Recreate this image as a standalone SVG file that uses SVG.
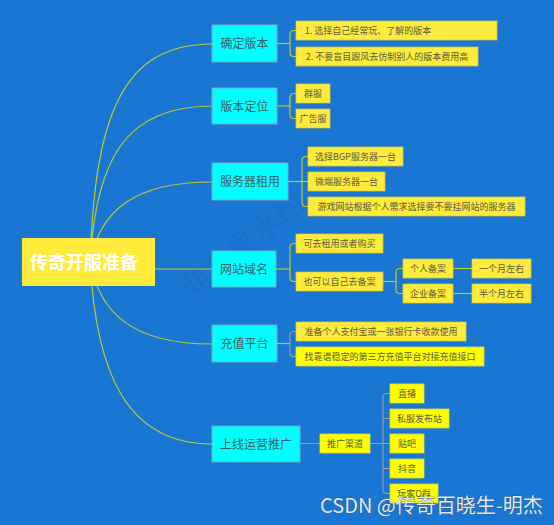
<svg xmlns="http://www.w3.org/2000/svg" width="554" height="525" viewBox="0 0 554 525">
<style>
  text { font-family: "Noto Sans CJK SC", "Liberation Sans", sans-serif; }
  .root { fill: #FFEB3B; }
  .roott { fill: #ffffff; font-size: 18px; font-weight: 600; }
  .br { fill: #00FFFF; stroke: #7BA7C7; stroke-width: 1; }
  .brt { fill: #3E5F66; font-size: 12px; text-anchor: middle; }
  .lf { fill: #FFEB3B; stroke: #D9C63A; stroke-width: 0.8; }
  .lf2 { fill: #FFFF00; stroke: #D9D94A; stroke-width: 0.8; }
  .lft { fill: #5A5A40; font-size: 9px; text-anchor: middle; }
  .c { fill: none; stroke: #C0CA33; stroke-width: 1.2; }
  .g { fill: none; stroke: #9AA0A6; stroke-width: 1.1; }
  .wm { fill: #0D3F80; fill-opacity: 0.1; font-size: 30px; }
  .csdn { fill: #E4E8EE; font-size: 20px; }
</style>
<rect width="554" height="525" fill="#1976D2"/>

<text class="wm" transform="translate(190,300) rotate(-38)">非会员水印</text>

<g id="connectors">
  <path class="c" d="M90 262 C95 120 120 44 212 44"/>
  <path class="c" d="M90 262 C96 160 125 106 212 106"/>
  <path class="c" d="M90 262 C100 210 135 182 212 182"/>
  <path class="c" d="M155 269 H212"/>
  <path class="c" d="M90 262 C100 315 135 344 212 344"/>
  <path class="c" d="M90 262 C96 370 125 444 212 444"/>
  <path class="c" d="M277 43.5 H290"/>
  <path class="c" d="M296 30.5 H294 Q290 30.5 290 34.5 V52.5 Q290 56.5 294 56.5 H296"/>
  <path class="c" d="M277 106 H290"/>
  <path class="c" d="M296 93.5 H294 Q290 93.5 290 97.5 V114.5 Q290 118.5 294 118.5 H296"/>
  <path class="c" d="M288 181.5 H308"/>
  <path class="c" d="M308 156.5 H306 Q302 156.5 302 160.5 V202.5 Q302 206.5 306 206.5 H308"/>
  <path class="c" d="M276 269 H290"/>
  <path class="c" d="M296 243.5 H294 Q290 243.5 290 247.5 V277.5 Q290 281.5 294 281.5 H296"/>
  <path class="c" d="M383 281.5 H396"/>
  <path class="c" d="M403 268.5 H400 Q396 268.5 396 272.5 V289.5 Q396 293.5 400 293.5 H403"/>
  <path class="c" d="M453 268.5 H472"/>
  <path class="c" d="M453 293.5 H472"/>
  <path class="c" d="M277 343.5 H290"/>
  <path class="g" d="M296 331.5 H294 Q290 331.5 290 335.5 V352.5 Q290 356.5 294 356.5 H296"/>
  <path class="g" d="M300 443.5 H320"/>
  <path class="g" d="M370 443.5 H383"/>
  <path class="g" d="M390 393.5 H387 Q383 393.5 383 397.5 V489.5 Q383 493.5 387 493.5 H390"/>
  <path class="g" d="M383 418.5 H390 M383 443.5 H390 M383 468.5 H390"/>
</g>

<g id="root">
  <rect class="root" x="22" y="238" width="133" height="48"/>
  <text class="roott" x="30" y="268.5">传奇开服准备</text>
</g>

<g id="b1">
  <rect class="br" x="212" y="25" width="65" height="37"/>
  <text class="brt" x="244.5" y="48">确定版本</text>
</g>
<g id="b1l1"><rect class="lf" x="296" y="21" width="201" height="19"/><text class="lft" x="368" y="34">1. 选择自己经常玩、了解的版本</text></g>
<g id="b1l2"><rect class="lf" x="296" y="47" width="182" height="19"/><text class="lft" x="387" y="60">2. 不要盲目跟风去仿制别人的版本费用高</text></g>

<g id="b2">
  <rect class="br" x="212" y="88" width="65" height="36"/>
  <text class="brt" x="244.5" y="110.5">版本定位</text>
</g>
<g id="b2l1"><rect class="lf" x="296" y="84" width="34" height="19"/><text class="lft" x="313" y="97">群服</text></g>
<g id="b2l2"><rect class="lf" x="296" y="109" width="34" height="19"/><text class="lft" x="313" y="122">广告服</text></g>

<g id="b3">
  <rect class="br" x="212" y="163" width="76" height="37"/>
  <text class="brt" x="250" y="186">服务器租用</text>
</g>
<g id="b3l1"><rect class="lf" x="308" y="147" width="95" height="19"/><text class="lft" x="355.5" y="160">选择BGP服务器一台</text></g>
<g id="b3l2"><rect class="lf" x="308" y="172" width="77" height="19"/><text class="lft" x="346.5" y="185">微端服务器一台</text></g>
<g id="b3l3"><rect class="lf" x="308" y="197" width="217" height="19"/><text class="lft" x="416.5" y="210">游戏网站根据个人需求选择要不要挂网站的服务器</text></g>

<g id="b4">
  <rect class="br" x="212" y="251" width="64" height="36"/>
  <text class="brt" x="244" y="273.5">网站域名</text>
</g>
<g id="b4l1"><rect class="lf" x="296" y="234" width="87" height="19"/><text class="lft" x="339.5" y="247">可去租用或者购买</text></g>
<g id="b4l2"><rect class="lf" x="296" y="272" width="87" height="19"/><text class="lft" x="339.5" y="285">也可以自己去备案</text></g>
<g id="b4l2a"><rect class="lf" x="403" y="259" width="50" height="19"/><text class="lft" x="428" y="272">个人备案</text></g>
<g id="b4l2b"><rect class="lf" x="403" y="284" width="50" height="19"/><text class="lft" x="428" y="297">企业备案</text></g>
<g id="b4l2a1"><rect class="lf" x="472" y="259" width="59" height="19"/><text class="lft" x="501.5" y="272">一个月左右</text></g>
<g id="b4l2b1"><rect class="lf" x="472" y="284" width="59" height="19"/><text class="lft" x="501.5" y="297">半个月左右</text></g>

<g id="b5">
  <rect class="br" x="212" y="325" width="65" height="37"/>
  <text class="brt" x="244.5" y="348">充值平台</text>
</g>
<g id="b5l1"><rect class="lf" x="296" y="322" width="170" height="19"/><text class="lft" x="381" y="335">准备个人支付宝或一张银行卡收款使用</text></g>
<g id="b5l2"><rect class="lf2" x="296" y="347" width="188" height="19"/><text class="lft" x="390" y="360">找靠谱稳定的第三方充值平台对接充值接口</text></g>

<g id="b6">
  <rect class="br" x="212" y="426" width="88" height="36"/>
  <text class="brt" x="256" y="448.5">上线运营推广</text>
</g>
<g id="b6l1"><rect class="lf2" x="320" y="434" width="50" height="19"/><text class="lft" x="345" y="447">推广渠道</text></g>
<g id="b6l1a"><rect class="lf2" x="390" y="384" width="34" height="19"/><text class="lft" x="407" y="397">直播</text></g>
<g id="b6l1b"><rect class="lf2" x="390" y="409" width="59" height="19"/><text class="lft" x="419.5" y="422">私服发布站</text></g>
<g id="b6l1c"><rect class="lf2" x="390" y="434" width="34" height="19"/><text class="lft" x="407" y="447">贴吧</text></g>
<g id="b6l1d"><rect class="lf2" x="390" y="459" width="34" height="19"/><text class="lft" x="407" y="472">抖音</text></g>
<g id="b6l1e"><rect class="lf2" x="390" y="484" width="48" height="19"/><text class="lft" x="414" y="497">玩家Q群</text></g>

<text class="csdn" x="320" y="513" style="paint-order:stroke" stroke="#2a4a6a" stroke-width="0.6">CSDN @传奇百晓生-明杰</text>
</svg>
